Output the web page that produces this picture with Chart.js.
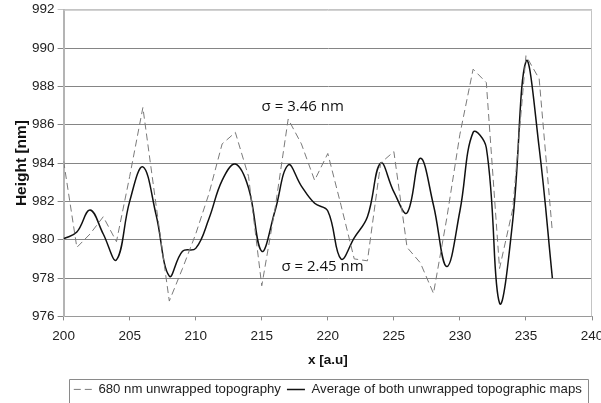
<!DOCTYPE html>
<html>
<head>
<meta charset="utf-8">
<script src="https://cdn.jsdelivr.net/npm/chart.js@4.4.1/dist/chart.umd.min.js"></script>
<style>
	body { margin: 0; background: #fff; }
</style>
</head>
<body>
<canvas id="topoChart" width="601" height="403"></canvas>
<script>
const xs = [200, 201, 202, 203, 204, 205, 206, 207, 208, 209, 210, 211, 212,
	213, 214, 215, 216, 217, 218, 219, 220, 221, 222, 223, 224, 225, 226, 227,
	228, 229, 230, 231, 232, 233, 234, 235, 236, 237]

// 680 nm unwrapped topography (dashed)
const topo680 = [984.1, 979.6, 980.3, 981.2, 979.9, 983.3, 986.9, 981.8, 976.8,
	978.5, 980.3, 982.4, 985.0, 985.6, 983.3, 977.6, 981.6, 986.3, 985.0, 983.1,
	984.5, 981.8, 979.0, 978.9, 984.0, 984.6, 979.6, 978.8, 977.2, 981.1, 985.5,
	988.9, 988.2, 978.5, 981.6, 989.6, 988.4, 980.4]

// average of both maps (solid)
const topoAvg = [980.05, 980.4, 981.55, 980.3, 978.95, 982.0, 983.8, 981.3,
	978.1, 979.4, 979.55, 981.1, 983.1, 983.95, 982.7, 979.4, 981.5, 983.9,
	982.8, 981.9, 981.5, 979.0, 980.1, 981.2, 984.0, 982.5, 981.4, 984.25, 981.8,
	978.6, 981.5, 985.6, 984.8, 976.7, 981.0, 989.3, 984.8, 978.0]

const seriesNames = ['680 nm unwrapped topography', 'Average of both unwrapped topographic maps']
const notes = ['σ = 3.46 nm', 'σ = 2.45 nm']

const toPoints = vals => vals.map((v, i) => ({ x: xs[i], y: v }))

const font = '"Liberation Sans", Arial, sans-serif'

// light frame around the plot area
const frame = {
	id: 'frame',
	beforeDatasetsDraw(chart) {
		const { ctx, chartArea: a } = chart
		ctx.save()
		ctx.strokeStyle = '#c4c4c4'
		ctx.lineWidth = 1
		ctx.beginPath()
		ctx.moveTo(a.left, a.top + 0.5)
		ctx.lineTo(a.right - 0.5, a.top + 0.5)
		ctx.lineTo(a.right - 0.5, a.bottom)
		ctx.stroke()
		ctx.restore()
	},
}

// sigma labels
const sigmaNotes = {
	id: 'sigmaNotes',
	afterDatasetsDraw(chart) {
		const { ctx } = chart
		const xS = chart.scales.x
		const yS = chart.scales.y
		const spots = [[218.1, 986.95], [219.6, 978.6]]
		ctx.save()
		ctx.font = '15px "Open Sans", sans-serif'
		ctx.fillStyle = '#111'
		ctx.textAlign = 'center'
		ctx.textBaseline = 'middle'
		notes.forEach((t, i) => {
			ctx.fillText(t, xS.getPixelForValue(spots[i][0]), yS.getPixelForValue(spots[i][1]))
		})
		ctx.restore()
	},
}

// centre the legend under the plot area, not the canvas
const legendShift = {
	id: 'legendShift',
	afterLayout(chart) {
		const lg = chart.legend
		const a = chart.chartArea
		const dx = (a.left + a.right) / 2 - (lg.left + lg.right) / 2
		lg.left += dx
		lg.right += dx
	},
}

// box around the legend (bottom is cut off like the original)
const legendBox = {
	id: 'legendBox',
	afterDraw(chart) {
		const boxes = chart.legend.legendHitBoxes
		if (!boxes || !boxes.length) return
		const { ctx } = chart
		const left = Math.round(Math.min(...boxes.map(b => b.left))) - 4.5
		const right = Math.round(Math.max(...boxes.map(b => b.left + b.width))) + 6.5
		const top = Math.round(boxes[0].top) - 3.5
		ctx.save()
		ctx.strokeStyle = '#8a8a8a'
		ctx.lineWidth = 1
		ctx.beginPath()
		ctx.moveTo(left, chart.height)
		ctx.lineTo(left, top)
		ctx.lineTo(right, top)
		ctx.lineTo(right, chart.height)
		ctx.stroke()
		ctx.restore()
	},
}

const baseLabels = Chart.defaults.plugins.legend.labels.generateLabels

new Chart(document.getElementById('topoChart').getContext('2d'), {
	type: 'line',
	data: {
		datasets: [
			{
				label: seriesNames[0],
				data: toPoints(topo680),
				borderColor: '#7a7a7a',
				backgroundColor: 'rgba(0,0,0,0)',
				borderWidth: 1,
				borderDash: [7, 4],
				pointRadius: 0,
				tension: 0,
			},
			{
				label: seriesNames[1],
				data: toPoints(topoAvg),
				borderColor: '#111',
				backgroundColor: 'rgba(0,0,0,0)',
				borderWidth: 1.5,
				pointRadius: 0,
				tension: 0.4,
			},
		],
	},
	options: {
		responsive: false,
		animation: false,
		layout: { padding: { top: 3, right: 9, bottom: -3, left: 6.5 } },
		plugins: {
			legend: {
				position: 'bottom',
				labels: {
					usePointStyle: true,
					pointStyle: 'line',
					pointStyleWidth: 18,
					padding: 6,
					color: '#222',
					font: { family: font, size: 13.2 },
					generateLabels: chart =>
						baseLabels(chart).map((l, i) => {
							const ds = chart.data.datasets[i]
							return { ...l, lineDash: ds.borderDash || [], lineWidth: ds.borderWidth, strokeStyle: ds.borderColor }
						}),
				},
			},
			tooltip: { enabled: false },
		},
		scales: {
			x: {
				type: 'linear',
				min: 200,
				max: 240,
				afterFit: s => { s.paddingRight = 0 },
				ticks: {
					stepSize: 5,
					padding: 8,
					color: '#222',
					font: { family: font, size: 13.5 },
				},
				grid: {
					drawOnChartArea: false,
					tickLength: 4,
					color: '#8a8a8a',
				},
				border: { color: '#9a9a9a', width: 1 },
				title: {
					display: true,
					text: 'x [a.u]',
					color: '#111',
					font: { family: font, size: 13.5, weight: 'bold' },
					padding: { top: 0, bottom: 8 },
				},
			},
			y: {
				min: 976,
				max: 992,
				ticks: {
					stepSize: 2,
					padding: 3,
					color: '#222',
					font: { family: font, size: 13.5, lineHeight: 1 },
				},
				grid: {
					tickLength: 6,
					color: c => (c.tick && c.tick.value === 992 ? '#c4c4c4' : '#858585'),
				},
				border: { color: '#b4b4b4', width: 2 },
				title: {
					display: true,
					text: 'Height [nm]',
					color: '#111',
					font: { family: font, size: 15.5, weight: 'bold' },
					padding: { top: 6, bottom: -2 },
				},
			},
		},
	},
	plugins: [frame, sigmaNotes, legendShift, legendBox],
})
</script>
</body>
</html>
